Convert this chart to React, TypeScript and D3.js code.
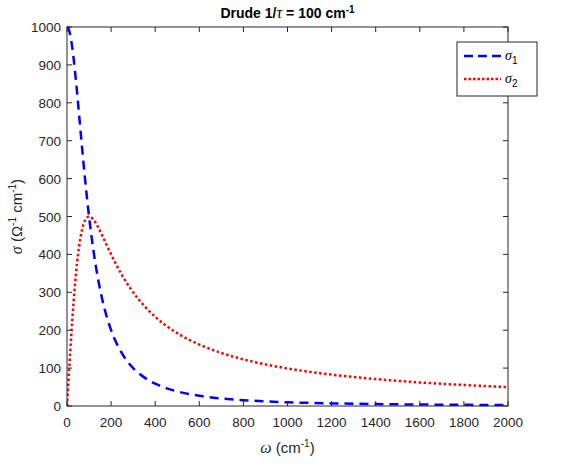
import React from 'react';
import * as d3 from 'd3';

// frequency samples (cm^-1) and the two conductivity curves
const omega = [0, 5, 10, 20, 30, 40, 50, 60, 70, 80, 90, 100, 120, 140, 160, 180, 200, 250, 300, 350, 400, 450, 500, 600, 700, 800, 900, 1000, 1200, 1400, 1600, 1800, 2000];
const sigma1 = [1000, 997.5, 990.1, 961.5, 917.4, 862.1, 800, 735.3, 671.1, 609.8, 552.5, 500, 409.8, 337.8, 280.9, 235.8, 200, 137.9, 100, 75.5, 58.8, 47.1, 38.5, 27.0, 20, 15.4, 12.2, 9.9, 6.9, 5.1, 3.9, 3.1, 2.5];
const sigma2 = [0, 49.9, 99.0, 192.3, 275.2, 344.8, 400, 441.2, 469.8, 487.8, 497.2, 500, 491.8, 473.0, 449.4, 424.5, 400, 344.8, 300, 264.2, 235.3, 211.8, 192.3, 162.2, 140, 123.1, 109.8, 99.0, 82.8, 71.1, 62.3, 55.4, 49.9];

const xTicks = [0, 200, 400, 600, 800, 1000, 1200, 1400, 1600, 1800, 2000];
const yTicks = [0, 100, 200, 300, 400, 500, 600, 700, 800, 900, 1000];

const W = 564;
const H = 464;
const margin = { left: 67, right: 56, top: 27, bottom: 58 };
const axisColor = '#262626';
const font = '"Liberation Sans", Arial, Helvetica, sans-serif';
const serif = '"Liberation Serif", "Times New Roman", serif';

export default function App() {
  const x = d3.scaleLinear().domain([0, 2000]).range([margin.left, W - margin.right]);
  const y = d3.scaleLinear().domain([0, 1000]).range([H - margin.bottom, margin.top]);
  const x0 = x.range()[0], x1 = x.range()[1];
  const y0 = y.range()[0], y1 = y.range()[1];

  const line = (vals: number[]) =>
    d3.line<number>()
      .x((_, i) => x(omega[i]))
      .y((d) => y(d))
      .curve(d3.curveMonotoneX)(vals) || '';

  const tickLen = 5;

  // legend box
  const lg = { x: 457, y: 42, w: 80, h: 54 };

  return (
    <svg width={W} height={H} style={{ position: 'fixed', left: 0, top: 0, background: '#fff' }} fontFamily={font}>
      <rect x={0} y={0} width={W} height={H} fill="#fff" />
      <defs>
        <clipPath id="plot">
          <rect x={x0} y={y1 - 2} width={x1 - x0 + 2} height={y0 - y1 + 4} />
        </clipPath>
      </defs>

      {/* curves */}
      <g clipPath="url(#plot)">
        <path d={line(sigma2)} fill="none" stroke="#ff0000" strokeWidth={2.5} strokeDasharray="2.5,2.5" />
        <path d={line(sigma1)} fill="none" stroke="#0000ff" strokeWidth={2.5} strokeDasharray="9,6" />
      </g>

      {/* axes box */}
      <rect x={x0} y={y1} width={x1 - x0} height={y0 - y1} fill="none" stroke={axisColor} strokeWidth={1} />

      {/* x ticks */}
      {xTicks.map((t) => (
        <g key={'x' + t}>
          <line x1={x(t)} x2={x(t)} y1={y0} y2={y0 - tickLen} stroke={axisColor} />
          <line x1={x(t)} x2={x(t)} y1={y1} y2={y1 + tickLen} stroke={axisColor} />
          <text x={x(t)} y={y0 + 21} textAnchor="middle" fontSize={13.5} fill={axisColor}>{t}</text>
        </g>
      ))}

      {/* y ticks */}
      {yTicks.map((t) => (
        <g key={'y' + t}>
          <line x1={x0} x2={x0 + tickLen} y1={y(t)} y2={y(t)} stroke={axisColor} />
          <line x1={x1} x2={x1 - tickLen} y1={y(t)} y2={y(t)} stroke={axisColor} />
          <text x={x0 - 6} y={y(t) + 5} textAnchor="end" fontSize={13.5} fill={axisColor}>{t}</text>
        </g>
      ))}

      {/* title */}
      <text x={(x0 + x1) / 2} y={18} textAnchor="middle" fontSize={14} fontWeight="bold" fill="#000">
        Drude 1/<tspan fontFamily={serif} fontStyle="italic" fontWeight="normal" fontSize={16}>τ</tspan> = 100 cm
        <tspan dy={-5} fontSize={10}>-1</tspan>
      </text>

      {/* x label */}
      <text x={(x0 + x1) / 2} y={453} textAnchor="middle" fontSize={15} fill={axisColor}>
        <tspan fontFamily={serif} fontStyle="italic" fontSize={16}>ω</tspan> (cm
        <tspan dy={-6} fontSize={10}>-1</tspan>
        <tspan dy={6}>)</tspan>
      </text>

      {/* y label */}
      <text transform={`translate(22,${(y0 + y1) / 2}) rotate(-90)`} textAnchor="middle" fontSize={15} fill={axisColor}>
        <tspan fontFamily={serif} fontStyle="italic" fontSize={16}>σ</tspan> (Ω
        <tspan dy={-6} fontSize={10}>-1</tspan>
        <tspan dy={6}> cm</tspan>
        <tspan dy={-6} fontSize={10}>-1</tspan>
        <tspan dy={6}>)</tspan>
      </text>

      {/* legend */}
      <rect x={lg.x} y={lg.y} width={lg.w} height={lg.h} fill="#fff" stroke={axisColor} strokeWidth={1} />
      <line x1={lg.x + 7} x2={lg.x + 44} y1={lg.y + 14} y2={lg.y + 14} stroke="#0000ff" strokeWidth={2.5} strokeDasharray="9,5" />
      <text x={lg.x + 48} y={lg.y + 18} fontSize={14} fill="#000">
        <tspan fontFamily={serif} fontStyle="italic">σ</tspan>
        <tspan dy={4} fontSize={10}>1</tspan>
      </text>
      <line x1={lg.x + 7} x2={lg.x + 44} y1={lg.y + 37} y2={lg.y + 37} stroke="#ff0000" strokeWidth={2.5} strokeDasharray="2.5,2" />
      <text x={lg.x + 48} y={lg.y + 41} fontSize={14} fill="#000">
        <tspan fontFamily={serif} fontStyle="italic">σ</tspan>
        <tspan dy={4} fontSize={10}>2</tspan>
      </text>
    </svg>
  );
}
